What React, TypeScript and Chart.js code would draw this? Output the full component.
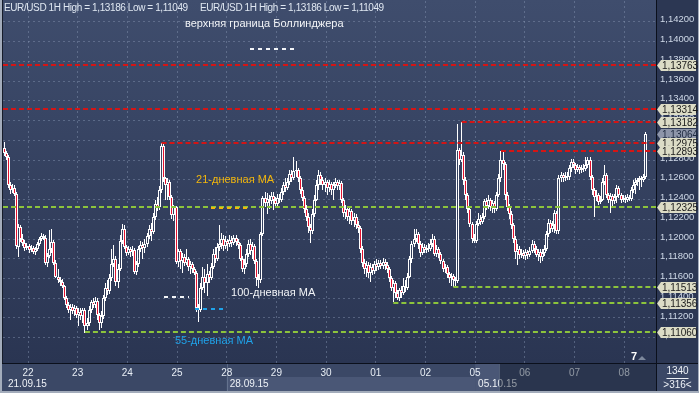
import React, { useEffect, useRef } from 'react';
import { Chart, registerables } from 'chart.js';

Chart.register(...registerables);

// ---- data (prices in pips above 1.1000) ----
const BASE_PRICE = 1.1;
const PIP = 0.0001;

const opens = [
  292,287,283,255,250,252,246,192,212,200, 196,191,193,189,191,187,190,195,200,203,
  201,176,183,190,197,176,162,158,156,152, 140,133,128,131,127,130,123,126,122,128,
  112,115,128,136,133,137,123,115,122,140, 150,147,160,175,180,156,170,198,210,192,
  186,190,187,189,167,175,190,194,191,195, 203,210,207,222,235,232,250,294,262,255,
  258,243,224,232,177,188,178,182,176,180, 172,175,170,166,130,128,150,162,155,165,
  160,172,185,180,192,195,200,193,198,195, 199,196,201,197,194,180,170,175,185,195,
  188,193,178,160,158,205,242,236,241,238, 244,240,235,242,240,248,255,252,258,266,
  262,269,270,262,250,242,230,222,212,208, 225,240,255,265,260,255,258,252,256,250,
  255,258,254,257,240,226,230,222,228,218, 222,214,211,190,176,170,174,166,172,168,
  175,172,176,173,177,174,170,160,150,155, 145,140,148,145,152,150,162,180,195,200,
  205,195,186,192,189,191,190,195,200,185, 190,185,178,170,172,165,160,163,158,157,
  290,280,285,260,245,230,215,200,198,215, 220,217,222,238,233,240,232,236,230,245,
  262,280,276,245,232,225,214,200,187,190, 184,186,183,187,184,188,195,190,184,187,
  182,186,190,205,216,210,214,226,208,262, 265,262,264,263,272,278,275,270,273,270,
  272,271,275,280,263,250,243,245,237,240, 258,265,245,240,244,238,243,252,245,240,
  242,240,243,241,250,255,258,260,262,260, 263,
];
const highs = [
  298,289,285,258,256,255,248,215,214,205, 199,196,195,194,193,192,197,202,206,205,
  204,186,209,210,199,179,170,162,159,153, 142,136,134,134,133,132,130,130,130,130,
  120,132,138,140,141,140,125,127,143,155, 158,165,190,194,183,175,204,215,214,194,
  193,192,193,191,178,193,198,197,200,206, 214,216,226,240,243,254,297,297,263,262,
  260,245,234,233,190,190,186,185,190,182, 178,177,172,168,134,155,172,170,175,168,
  176,190,192,196,214,206,204,203,200,204, 203,204,204,200,196,183,180,190,199,200,
  197,195,180,165,207,244,248,247,245,248, 248,243,246,246,252,258,262,262,270,270,
  283,279,272,264,253,244,234,226,215,230, 245,260,270,268,263,262,260,260,258,258,
  262,260,260,259,242,234,233,232,230,226, 225,218,213,193,180,178,177,176,175,178,
  180,179,179,181,180,177,172,163,158,157, 148,150,152,160,158,166,183,198,210,210,
  207,198,196,195,194,196,200,205,203,194, 192,187,180,175,174,167,166,165,162,316,
  292,318.6,288,263,247,233,217,205,218,226, 224,226,241,242,245,242,240,238,248,266,
  289,289,278,248,235,228,216,203,195,193, 190,189,190,189,192,199,198,193,190,190,
  190,194,208,220,219,218,229,228,265,268, 267,268,268,275,281,281,277,276,275,275,
  276,283,283,283,265,252,250,247,244,262, 275,267,247,247,246,246,255,254,247,245,
  245,246,245,253,260,262,262,264,264,266, 308,
];
const lows = [
  284,280,252,246,247,244,190,182,197,193, 188,189,186,187,185,184,188,193,198,199,
  174,172,181,186,174,160,155,152,150,138, 130,125,118,124,122,120,112,118,115,104.9,
  108,112,125,130,130,118,108,110,119,137, 143,144,157,172,152,150,168,195,190,183,
  184,182,183,165,164,172,187,180,186,192, 200,198,205,219,228,229,247,258,240,240,
  240,220,218,175,172,170,166,173,174,168, 165,166,164,126,116,126,148,145,142,155,
  158,170,176,178,188,190,188,190,188,192, 192,194,193,190,178,167,165,172,182,184,
  180,175,152,150,155,203,232,225,230,235, 229,231,232,236,237,245,248,250,255,258,
  260,263,258,246,238,226,218,206,196,205, 222,238,250,255,250,248,245,248,245,240,
  252,250,250,236,222,220,218,215,214,212, 210,206,186,172,165,162,160,156,164,165,
  168,169,170,170,169,166,156,147,136,140, 138,137,140,143,146,148,160,176,192,197,
  190,182,184,186,186,187,188,192,183,182, 181,175,167,166,160,155,152,151,152,155,
  275,278,255,240,226,212,196,196,196,213, 214,215,220,229,230,228,226,226,228,243,
  258,270,240,228,220,210,196,180,174,180, 181,180,179,180,182,186,186,182,178,176,
  178,183,188,202,206,207,206,205,205,258, 258,259,260,260,268,272,266,268,266,267,
  268,269,272,260,245,222,238,234,235,238, 255,242,236,226,232,235,236,242,236,237,
  236,237,238,239,247,246,254,250,253,258, 261,
];
const closes = [
  287,283,255,250,252,246,193,212,200,196, 191,193,189,191,187,190,195,200,203,201,
  176,183,190,197,176,162,158,156,152,140, 133,128,131,127,130,123,126,122,128,112,
  115,128,136,133,137,123,115,122,140,150, 147,160,175,180,156,170,198,210,192,186,
  190,187,189,167,175,190,194,191,195,203, 210,207,222,235,232,250,294,262,255,258,
  243,224,232,177,188,178,182,176,180,172, 175,170,166,130,128,150,162,155,165,160,
  172,185,180,192,195,200,193,198,195,199, 196,201,197,194,180,170,175,185,195,188,
  193,178,160,158,205,242,236,241,238,244, 240,235,242,240,248,255,252,258,266,262,
  269,270,262,250,242,230,222,212,208,225, 240,255,265,260,255,258,252,256,250,255,
  258,254,257,240,226,230,222,228,218,222, 214,211,190,176,170,174,166,172,168,175,
  172,176,173,177,174,170,160,150,155,145, 140,148,145,152,150,162,180,195,200,205,
  195,186,192,189,191,190,195,200,185,190, 185,178,170,172,165,160,163,158,157,290,
  280,285,260,245,230,215,200,198,215,220, 217,222,238,233,240,232,236,230,245,262,
  280,276,245,232,225,214,200,187,190,184, 186,183,187,184,188,195,190,184,187,182,
  186,190,205,216,210,214,226,208,262,265, 262,264,263,272,278,275,270,273,270,272,
  271,275,280,263,250,243,245,237,240,258, 265,245,240,244,238,243,252,245,240,242,
  240,243,241,250,255,258,260,262,260,263, 306.4,
];

// axis ticks & labels
const dayTickValues = [11.5, 35.5, 59.5, 83.5, 107.5, 131.5, 155.5, 179.5, 203.5, 227.5, 251.5, 275.5, 299.5];
const dayLabels = ['22', '23', '24', '25', '28', '29', '30', '01', '02', '05', '06', '07', '08'];
const weekStarts = [-0.58, 107.5, 227.5];
const weekLabels = ['21.09.15', '28.09.15', '05.10.15'];
const yTickValues = [1.110, 1.112, 1.114, 1.116, 1.118, 1.120, 1.122, 1.124, 1.126, 1.128, 1.130, 1.132, 1.134, 1.136, 1.138, 1.140, 1.142];

// levels
const resistanceLevels = [1.13763, 1.13314, 1.13182, 1.12975, 1.12893];
const resistanceStart = [null, null, 221, 76, 240];
const supportLevels = [1.12325, 1.11513, 1.11356, 1.1106];
const supportStart = [null, 217, 188, 39];
const lastPrice = 1.13064;

const headerText = 'EUR/USD 1H High = 1,13186 Low = 1,11049';
const totalBars = '1340';
const visibleBars = '>316<';
const zoomLevel = '7';

// annotation labels: [index, price] text anchor, dash [fromIndex, toIndex, price]
const maNotes = [
  { text: 'верхняя граница Боллинджера', color: '#f2f4f7', at: [87.3, 1.14178], dash: [118.7, 140.5, 1.13924] },
  { text: '21-дневная МА', color: '#f2b60c', at: [92.7, 1.126], dash: [99.9, 117.3, 1.12314] },
  { text: '100-дневная МА', color: '#f2f4f7', at: [109.6, 1.11453], dash: [77.2, 89.3, 1.11412] },
  { text: '55-дневная МА', color: '#1fa3ea', at: [82.5, 1.10966], dash: [92.2, 105.7, 1.11291] },
];

const X_MIN = -0.58;
const X_MAX = 314.88;
const Y_MIN = 1.10744;
const Y_MAX = 1.14411;

const FONT = '"Liberation Sans", Arial, sans-serif';
const RED = '#e3122f';

const price = (p: number) => BASE_PRICE + p * PIP;
const fmt = (v: number) => v.toFixed(5).replace('.', ',');

function buildDatasets() {
  const bodies = closes.map((c, i) => ({ x: i, y: [price(Math.min(opens[i], c)), price(Math.max(opens[i], c))] }));
  const upper = closes.map((c, i) => ({ x: i, y: [price(Math.max(opens[i], c)), price(highs[i])] }));
  const lower = closes.map((c, i) => ({ x: i, y: [price(lows[i]), price(Math.min(opens[i], c))] }));
  const bodyColors = closes.map((c, i) => (c < opens[i] ? RED : 'rgba(0,0,0,0)'));
  return [
    {
      type: 'bar', data: bodies, order: 0, grouped: false, barThickness: 3,
      backgroundColor: bodyColors, borderColor: '#ffffff', borderWidth: 1,
      borderSkipped: false, inflateAmount: 0,
    },
    {
      type: 'bar', data: upper, order: 1, grouped: false, barThickness: 1,
      backgroundColor: '#ffffff', borderWidth: 0, borderSkipped: false, inflateAmount: 0,
    },
    {
      type: 'bar', data: lower, order: 1, grouped: false, barThickness: 1,
      backgroundColor: '#ffffff', borderWidth: 0, borderSkipped: false, inflateAmount: 0,
    },
  ];
}

// snap bar elements (positioned by the scales) onto whole pixels for crisp candles
const snapPlugin = {
  id: 'pixelSnap',
  afterDatasetsUpdate(chart: any) {
    chart.data.datasets.forEach((_d: any, di: number) => {
      const meta = chart.getDatasetMeta(di);
      meta.data.forEach((el: any) => {
        el.x = Math.floor(el.x) + 0.5;
        el.y = Math.round(el.y);
        el.base = Math.round(el.base);
      });
    });
  },
};

const backgroundPlugin = {
  id: 'terminalBackground',
  beforeDraw(chart: any) {
    const { ctx, chartArea: a, width, height } = chart;
    const xs = chart.scales.x;
    ctx.save();
    ctx.fillStyle = '#2c3753';
    ctx.fillRect(0, 0, width, height);
    const g = ctx.createLinearGradient(0, 0, 0, a.bottom);
    g.addColorStop(0, '#3f4d6d');
    g.addColorStop(1, '#2a3552');
    ctx.fillStyle = g;
    ctx.fillRect(0, 0, a.right, a.bottom);
    // time axis band
    ctx.fillStyle = '#3b4866';
    ctx.fillRect(0, a.bottom, width, height - a.bottom);
    const w1 = xs.getPixelForValue(weekStarts[1]);
    const w2 = xs.getPixelForValue(weekStarts[2]);
    ctx.fillStyle = '#4a5776';
    ctx.fillRect(w1, a.bottom + 14, w2 - w1, 14);
    ctx.fillRect(w2, a.bottom + 1, 499 - w2, 27);
    ctx.fillStyle = 'rgba(150,165,190,0.35)';
    ctx.fillRect(Math.round(w1), a.bottom + 1, 1, 27);
    ctx.restore();
  },
};

const overlayPlugin = {
  id: 'terminalOverlay',
  afterDraw(chart: any) {
    const { ctx, chartArea: a, width, height } = chart;
    const xs = chart.scales.x;
    const ys = chart.scales.y;
    ctx.save();

    // week labels
    ctx.font = `10px ${FONT}`;
    ctx.textBaseline = 'middle';
    ctx.textAlign = 'left';
    ctx.fillStyle = '#eef2f7';
    weekLabels.forEach((t, k) => {
      const x = k === 0 ? a.left + 5 : xs.getPixelForValue(weekStarts[k]) + 3;
      ctx.fillText(t, x, a.bottom + 21);
    });
    // dimmed overlay box on the time axis
    ctx.fillStyle = 'rgba(20,28,45,0.42)';
    ctx.fillRect(499, a.bottom + 1, a.right - 499, 27);
    ctx.fillStyle = 'rgba(120,135,160,0.5)';
    ctx.fillRect(499, a.bottom + 1, 1, 27);

    // level lines
    ctx.save();
    ctx.beginPath();
    ctx.rect(a.left, a.top, a.right - a.left, a.bottom - a.top);
    ctx.clip();
    ctx.lineWidth = 2;
    ctx.setLineDash([5, 3]);
    const drawLevel = (v: number, from: number | null, color: string) => {
      const y = Math.round(ys.getPixelForValue(v));
      const x0 = from === null ? a.left : xs.getPixelForValue(from);
      ctx.strokeStyle = color;
      ctx.beginPath();
      ctx.moveTo(x0, y);
      ctx.lineTo(a.right, y);
      ctx.stroke();
    };
    resistanceLevels.forEach((v, k) => drawLevel(v, resistanceStart[k], '#d41515'));
    supportLevels.forEach((v, k) => drawLevel(v, supportStart[k], '#8cc43c'));

    // MA notes
    ctx.setLineDash([4, 4]);
    maNotes.forEach((n) => {
      const y = Math.round(ys.getPixelForValue(n.dash[2]));
      ctx.strokeStyle = n.color;
      ctx.beginPath();
      ctx.moveTo(Math.round(xs.getPixelForValue(n.dash[0])), y);
      ctx.lineTo(Math.round(xs.getPixelForValue(n.dash[1])), y);
      ctx.stroke();
      ctx.fillStyle = n.color;
      ctx.font = `11px ${FONT}`;
      ctx.textAlign = 'left';
      ctx.textBaseline = 'middle';
      ctx.fillText(n.text, xs.getPixelForValue(n.at[0]), ys.getPixelForValue(n.at[1]));
    });
    ctx.setLineDash([]);
    ctx.restore();

    // header
    ctx.font = `10px ${FONT}`;
    ctx.textAlign = 'left';
    ctx.textBaseline = 'middle';
    (ctx as any).letterSpacing = '-0.4px';
    ctx.fillStyle = '#dfe7f1';
    ctx.fillText(headerText, 4, 8);
    ctx.fillText(headerText, 200, 8);
    (ctx as any).letterSpacing = '0px';

    // zoom indicator
    ctx.font = `bold 11px ${FONT}`;
    ctx.fillStyle = '#ffffff';
    ctx.fillText(zoomLevel, a.right - 25, a.bottom - 6);
    ctx.fillStyle = '#7d889c';
    ctx.beginPath();
    ctx.moveTo(a.right - 18, a.bottom - 3);
    ctx.lineTo(a.right - 14, a.bottom - 7);
    ctx.lineTo(a.right - 10, a.bottom - 3);
    ctx.closePath();
    ctx.fill();

    // separators
    ctx.fillStyle = '#0b101c';
    ctx.fillRect(a.right, 0, 1, height);
    ctx.fillRect(0, a.bottom, width, 1);

    // price boxes on the axis
    const box = (v: number, fill: string, textColor: string) => {
      const y = Math.round(ys.getPixelForValue(v));
      const l = a.right + 1;
      ctx.fillStyle = fill;
      ctx.beginPath();
      ctx.moveTo(l, y + 0.5);
      ctx.lineTo(l + 4, y - 5);
      ctx.lineTo(width - 3, y - 5);
      ctx.lineTo(width - 3, y + 6);
      ctx.lineTo(l + 4, y + 6);
      ctx.closePath();
      ctx.fill();
      ctx.fillStyle = textColor;
      ctx.font = `10px ${FONT}`;
      ctx.textAlign = 'left';
      ctx.textBaseline = 'middle';
      ctx.fillText(fmt(v), l + 5, y + 1);
    };
    box(lastPrice, '#8d95a9', '#1e2a40');
    resistanceLevels.forEach((v) => box(v, '#dcdcc6', '#1a1a1a'));
    supportLevels.forEach((v) => box(v, '#dcdcc6', '#1a1a1a'));

    // bottom right panel
    ctx.fillStyle = '#3b4866';
    ctx.fillRect(a.right + 1, a.bottom + 1, width - a.right - 1, height - a.bottom - 3);
    ctx.fillStyle = '#eef2f7';
    ctx.font = `10px ${FONT}`;
    ctx.textAlign = 'center';
    ctx.textBaseline = 'middle';
    const cx = (a.right + width) / 2;
    ctx.fillText(totalBars, cx, a.bottom + 8);
    ctx.fillRect(cx - 11, a.bottom + 15, 22, 1);
    ctx.fillText(visibleBars, cx, a.bottom + 22);

    // outer frame
    ctx.fillStyle = '#a3acbb';
    ctx.fillRect(0, height - 2, width, 2);
    ctx.fillRect(0, 0, 2, height);
    ctx.fillRect(width - 1, 0, 1, height);
    ctx.fillStyle = '#161c2a';
    ctx.fillRect(2, 0, 1, a.bottom);
    ctx.restore();
  },
};

export default function App() {
  const ref = useRef<HTMLCanvasElement>(null);
  useEffect(() => {
    document.body.style.margin = '0';
    const gridColor = 'rgba(135,150,180,0.45)';
    const chart = new Chart(ref.current as HTMLCanvasElement, {
      type: 'bar',
      data: { datasets: buildDatasets() as any },
      options: {
        animation: false,
        responsive: false,
        devicePixelRatio: 1,
        layout: { padding: { left: 3, top: 1, right: 0, bottom: 0 } },
        plugins: { legend: { display: false }, tooltip: { enabled: false } },
        scales: {
          x: {
            type: 'linear',
            min: X_MIN,
            max: X_MAX,
            offset: false,
            grid: { color: gridColor, lineWidth: 1, drawTicks: false, offset: false },
            border: { display: false, dash: [2, 3] },
            ticks: {
              color: '#e8eef5',
              font: { size: 10, family: FONT },
              padding: 4,
              maxRotation: 0,
              autoSkip: false,
              callback: (_v: any, idx: number) => dayLabels[idx],
            },
            afterBuildTicks: (s: any) => {
              s.ticks = dayTickValues.map((v) => ({ value: v }));
            },
            afterFit: (s: any) => {
              s.height = 30;
              s.paddingLeft = 0;
              s.paddingRight = 0;
            },
          },
          y: {
            type: 'linear',
            position: 'right',
            min: Y_MIN,
            max: Y_MAX,
            grid: { color: gridColor, lineWidth: 1, drawTicks: false },
            border: { display: false, dash: [2, 3] },
            ticks: {
              color: '#cfd9e8',
              font: { size: 9.5, family: FONT },
              padding: 4,
              labelOffset: -2,
              autoSkip: false,
              callback: (v: any) => fmt(Number(v)),
            },
            afterBuildTicks: (s: any) => {
              s.ticks = yTickValues.map((v) => ({ value: v }));
            },
            afterFit: (s: any) => {
              s.width = 43;
              s.paddingTop = 0;
              s.paddingBottom = 0;
            },
          },
        },
      } as any,
      plugins: [snapPlugin, backgroundPlugin, overlayPlugin],
    });
    return () => chart.destroy();
  }, []);
  return <canvas ref={ref} width={699} height={393} style={{ display: 'block', width: 699, height: 393 }} />;
}
